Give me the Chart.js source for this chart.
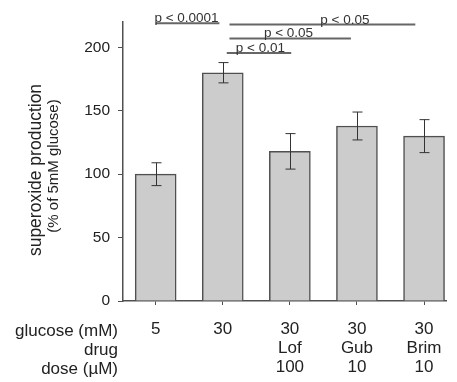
<!DOCTYPE html>
<html>
<head>
<meta charset="utf-8">
<script src="https://cdn.jsdelivr.net/npm/chart.js@4.4.0/dist/chart.umd.min.js"></script>
<style>
	html, body { margin: 0; padding: 0; background: #fff; }
	#wrap { width: 457px; height: 382px; }
</style>
</head>
<body>
<div id="wrap"><canvas id="barChart" width="457" height="382"></canvas></div>
<script>
// data
var glucose = ['5', '30', '30', '30', '30'];
var drug = ['', '', 'Lof', 'Gub', 'Brim'];
var dose = ['', '', '100', '10', '10'];
var superoxide = [100, 180, 118, 138, 130];
var sem = [9, 8, 14, 11, 13];
var yTicks = [0, 50, 100, 150, 200];
var rowLabels = ['glucose (mM)', 'drug', 'dose (µM)'];

// significance bars (x in category units, level in y units)
var sigLabels = ['p < 0.0001', 'p < 0.05', 'p < 0.05', 'p < 0.01'];
var sigFrom = [0, 1.1, 1.1, 1.06];
var sigTo = [0.95, 3.87, 2.91, 2.02];
var sigLevel = [219, 218, 207, 195.5];
var sigTextAt = [0.46, 2.82, 1.98, 1.56];

var FONT = "'Liberation Sans', Arial, sans-serif";
var INK = '#222';
var LINE = '#505050';

var extras = {
	id: 'extras',
	afterDatasetsDraw: function(chart) {
		var ctx = chart.ctx, x = chart.scales.x, y = chart.scales.y;
		ctx.save();
		// error bars
		ctx.strokeStyle = '#333';
		ctx.lineWidth = 1;
		superoxide.forEach(function(v, i) {
			var px = Math.round(x.getPixelForValue(i)) + 0.5;
			var top = y.getPixelForValue(v + sem[i]);
			var bot = y.getPixelForValue(v - sem[i]);
			ctx.beginPath();
			ctx.moveTo(px, top); ctx.lineTo(px, bot);
			ctx.moveTo(px - 5, top); ctx.lineTo(px + 5, top);
			ctx.moveTo(px - 5, bot); ctx.lineTo(px + 5, bot);
			ctx.stroke();
		});
		// significance lines
		ctx.strokeStyle = '#666';
		ctx.lineWidth = 2;
		ctx.fillStyle = '#333';
		ctx.font = '13.5px ' + FONT;
		ctx.textAlign = 'center';
		ctx.textBaseline = 'alphabetic';
		sigLabels.forEach(function(t, i) {
			var py = y.getPixelForValue(sigLevel[i]);
			ctx.beginPath();
			ctx.moveTo(x.getPixelForValue(sigFrom[i]), py);
			ctx.lineTo(x.getPixelForValue(sigTo[i]), py);
			ctx.stroke();
			ctx.fillText(t, x.getPixelForValue(sigTextAt[i]), py - 1);
		});
		ctx.restore();
	},
	afterDraw: function(chart) {
		var ctx = chart.ctx, x = chart.scales.x;
		ctx.save();
		ctx.fillStyle = INK;
		// row headers for the x labels
		ctx.font = '17px ' + FONT;
		ctx.textAlign = 'right';
		ctx.textBaseline = 'middle';
		rowLabels.forEach(function(t, i) {
			ctx.fillText(t, 118, x.top + 30 + i * 19);
		});
		// y axis title, two lines
		ctx.translate(36, 170);
		ctx.rotate(-Math.PI / 2);
		ctx.textAlign = 'center';
		ctx.font = '17.5px ' + FONT;
		ctx.fillText('superoxide production', 0, 0);
		ctx.font = '15px ' + FONT;
		ctx.fillText('(% of 5mM glucose)', 4, 18);
		ctx.restore();
	}
};

var barChart = new Chart(document.getElementById('barChart'), {
	type: 'bar',
	data: {
		datasets: [{
			data: superoxide.map(function(v, i) { return { x: i, y: v }; }),
			backgroundColor: '#cccccc',
			borderColor: LINE,
			borderWidth: 1.5,
			barThickness: 41
		}]
	},
	options: {
		responsive: false,
		animation: false,
		layout: { padding: { top: 22, right: 7, left: 0, bottom: 0 } },
		plugins: { legend: { display: false }, tooltip: { enabled: false } },
		scales: {
			x: {
				type: 'linear',
				offset: false,
				min: -0.487,
				max: 4.34,
				afterFit: function(s) { s.height = 81; },
				afterBuildTicks: function(s) { s.ticks = glucose.map(function(g, i) { return { value: i }; }); },
				border: { display: true, color: LINE, width: 1.5 },
				grid: { display: true, offset: false, drawOnChartArea: false, drawTicks: true, tickLength: 4, color: LINE },
				ticks: {
					autoSkip: false,
					maxRotation: 0,
					padding: 15,
					color: INK,
					font: { family: FONT, size: 17, lineHeight: '19px' },
					callback: function(v) {
						var lines = [glucose[v]];
						if (drug[v]) lines.push(drug[v]);
						if (dose[v]) lines.push(dose[v]);
						return lines;
					}
				}
			},
			y: {
				min: 0,
				max: 220,
				afterFit: function(s) { s.width = 123; },
				afterBuildTicks: function(s) { s.ticks = yTicks.map(function(v) { return { value: v }; }); },
				border: { display: true, color: LINE, width: 1.5 },
				grid: { display: true, drawOnChartArea: false, drawTicks: true, tickLength: 5, color: LINE },
				ticks: {
					padding: 8,
					color: INK,
					font: { family: FONT, size: 15.5 }
				}
			}
		}
	},
	plugins: [extras]
});
</script>
</body>
</html>
